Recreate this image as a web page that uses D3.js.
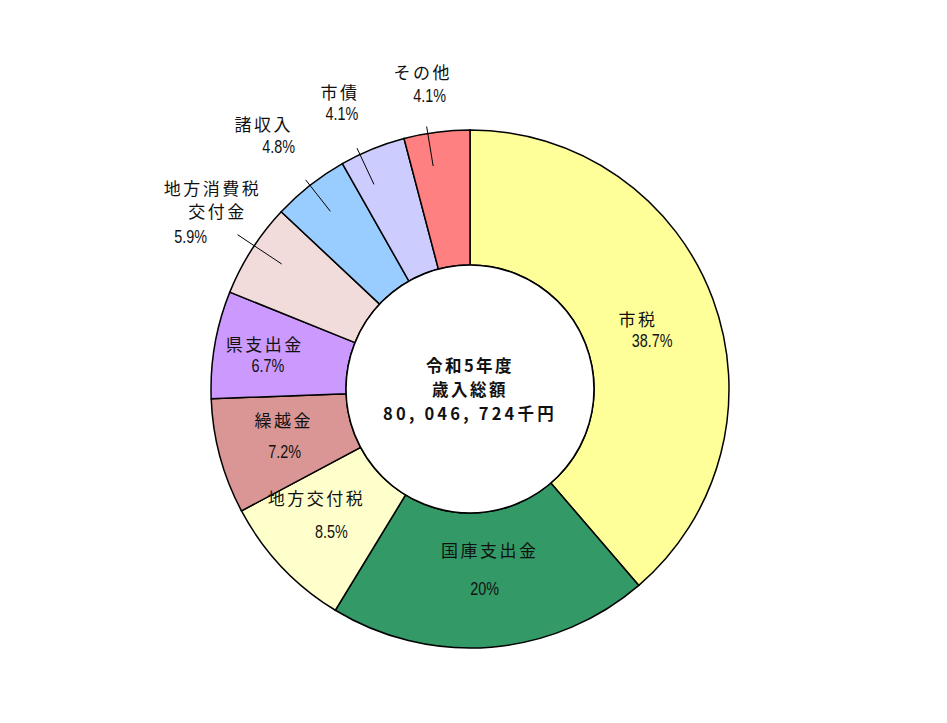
<!DOCTYPE html>
<html lang="ja">
<head>
<meta charset="utf-8">
<script src="https://cdn.jsdelivr.net/npm/d3@7"></script>
<style>
	html, body { margin: 0; padding: 0; background: #fff; }
	#graphic { width: 947px; height: 723px; }
	.lbl { font-family: "Noto Sans CJK JP", sans-serif; font-size: 17px; fill: #111; letter-spacing: 2.5px; }
	.pct { font-family: "Liberation Sans", Arial, sans-serif; font-size: 18px; fill: #111; }
	.centre { font-family: "Noto Sans CJK JP", sans-serif; font-size: 16.5px; font-weight: bold; fill: #111; letter-spacing: 2.5px; }
</style>
</head>
<body>
<div id="graphic"></div>
<script>
// data, clockwise from 12 o'clock
let categories = ['市税', '国庫支出金', '地方交付税', '繰越金', '県支出金', '地方消費税交付金', '諸収入', '市債', 'その他'];
let nameLines = [['市税'], ['国庫支出金'], ['地方交付税'], ['繰越金'], ['県支出金'], ['地方消費税', '交付金'], ['諸収入'], ['市債'], ['その他']];
let values = [38.7, 20, 8.5, 7.2, 6.7, 5.9, 4.8, 4.1, 4.1];
let pctLabels = ['38.7%', '20%', '8.5%', '7.2%', '6.7%', '5.9%', '4.8%', '4.1%', '4.1%'];
let colours = ['#FFFF99', '#339966', '#FFFFCC', '#DA9694', '#CC99FF', '#F2DCDB', '#99CCFF', '#CCCCFF', '#FF8080'];
let centreText = ['令和5年度', '歳入総額', '80, 046, 724千円'];

// label layout: inside labels sit near the centroid, outside ones hang off a leader line
let outside = [false, false, false, false, false, true, true, true, true];
let leaderOuter = [0, 0, 0, 0, 0, 279, 266, 266, 266];
let leaderTilt = [0, 0, 0, 0, 0, 1, 0, -3, -2]; // degrees
// offsets of each text line from its anchor [name lines..., pct]
let labelOffsets = [
	[[-12, -4], [2, 18]],
	[[4, -31], [-1, 8]],
	[[-14, -23], [1, 11]],
	[[-1, -20], [0, 12]],
	[[-16, -13], [-13, 9]],
	[[-25, -47], [-20, -24], [-47, 2]],
	[[-42, -56], [-27, -33]],
	[[-17, -57], [-15, -35]],
	[[-4, -55], [3, -31]]
];

let graphic = d3.select('#graphic');
let width = 947, height = 723;
let cx = 470, cy = 389;
let outerR = 259, innerR = 124, labelR = 192, leaderInner = 226;

let svg = graphic.append('svg').attr('width', width).attr('height', height);
let g = svg.append('g').attr('transform', 'translate(' + cx + ',' + cy + ')');

let pieData = d3.pie().sort(null).value((d) => d)(values);
let arc = d3.arc().innerRadius(innerR).outerRadius(outerR);

g.append('g')
	.selectAll('path')
	.data(pieData)
	.join('path')
	.attr('d', arc)
	.attr('fill', (d, i) => colours[i])
	.attr('stroke', '#000')
	.attr('stroke-width', 1.5);

// inner white circle outline
g.append('circle').attr('r', innerR).attr('fill', '#fff').attr('stroke', '#000').attr('stroke-width', 1.5);

let polar = (r, a) => [r * Math.sin(a), -r * Math.cos(a)];

pieData.forEach(function (d, i) {
	let mid = (d.startAngle + d.endAngle) / 2;
	let anchor;
	if (outside[i]) {
		let a = mid + leaderTilt[i] * Math.PI / 180;
		let p0 = polar(leaderInner, a);
		anchor = polar(leaderOuter[i], a);
		g.append('line')
			.attr('x1', p0[0]).attr('y1', p0[1])
			.attr('x2', anchor[0]).attr('y2', anchor[1])
			.attr('stroke', '#000').attr('stroke-width', 1);
	} else {
		anchor = polar(labelR, mid);
	}
	let offs = labelOffsets[i];
	nameLines[i].forEach(function (line, j) {
		g.append('text')
			.attr('class', 'lbl')
			.attr('x', anchor[0] + offs[j][0])
			.attr('y', anchor[1] + offs[j][1])
			.attr('text-anchor', 'middle')
			.attr('dominant-baseline', 'central')
			.text(line);
	});
	let po = offs[offs.length - 1];
	// narrow percentage figures: squeeze horizontally
	g.append('text')
		.attr('class', 'pct')
		.attr('transform', 'translate(' + (anchor[0] + po[0]) + ',' + (anchor[1] + po[1]) + ') scale(0.8,1)')
		.attr('text-anchor', 'middle')
		.attr('dominant-baseline', 'central')
		.text(pctLabels[i]);
});

// centre caption
let lineY = d3.scalePoint().domain(centreText).range([-24, 24]);
g.selectAll('text.centre')
	.data(centreText)
	.join('text')
	.attr('class', 'centre')
	.attr('x', 0)
	.attr('y', (d) => lineY(d))
	.attr('text-anchor', 'middle')
	.attr('dominant-baseline', 'central')
	.style('letter-spacing', (d, i) => i == 2 ? '3.2px' : null)
	.text((d) => d);
</script>
</body>
</html>
